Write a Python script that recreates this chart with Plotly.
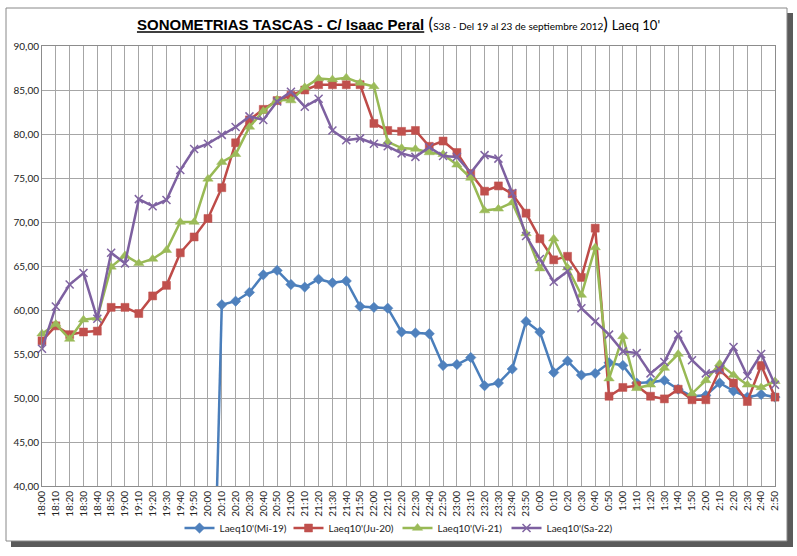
import plotly.graph_objects as go

categories = ["18:00","18:10","18:20","18:30","18:40","18:50","19:00","19:10","19:20","19:30","19:40","19:50",
              "20:00","20:10","20:20","20:30","20:40","20:50","21:00","21:10","21:20","21:30","21:40","21:50",
              "22:00","22:10","22:20","22:30","22:40","22:50","23:00","23:10","23:20","23:30","23:40","23:50",
              "0:00","0:10","0:20","0:30","0:40","0:50","1:00","1:10","1:20","1:30","1:40","1:50",
              "2:00","2:10","2:20","2:30","2:40","2:50"]

# Mi-19: no data before 20:00; 20:00 recorded as 0
mi19 = [None]*12 + [0.0,
        60.6, 61.0, 62.0, 64.0, 64.5, 62.9, 62.6, 63.5, 63.1, 63.3, 60.4,
        60.3, 60.2, 57.5, 57.4, 57.3, 53.7, 53.8, 54.6, 51.4, 51.7, 53.3, 58.7,
        57.5, 52.9, 54.2, 52.6, 52.8, 54.0, 53.7, 51.7, 51.8, 52.0, 51.0, 50.2,
        50.3, 51.7, 50.8, 50.1, 50.4, 50.1]
ju20 = [56.5, 58.2, 57.2, 57.5, 57.6, 60.3, 60.3, 59.6, 61.6, 62.8, 66.5, 68.3,
        70.4, 73.9, 79.0, 81.6, 82.8, 83.8, 84.4, 85.0, 85.6, 85.6, 85.6, 85.6,
        81.2, 80.4, 80.3, 80.4, 78.6, 79.2, 77.9, 75.5, 73.5, 74.1, 73.2, 71.0,
        68.1, 65.7, 66.1, 63.7, 69.3, 50.2, 51.2, 51.4, 50.2, 49.9, 51.0, 49.8,
        49.8, 53.2, 51.7, 49.6, 53.7, 50.1]
vi21 = [57.3, 58.4, 56.7, 58.9, 59.1, 64.9, 66.2, 65.3, 65.8, 66.8, 70.0, 70.0,
        74.9, 76.8, 77.7, 80.8, 82.6, 83.9, 83.8, 85.3, 86.3, 86.2, 86.4, 85.8,
        85.4, 79.1, 78.4, 78.3, 77.9, 77.7, 76.5, 75.0, 71.3, 71.5, 72.2, 68.7,
        64.7, 68.1, 64.8, 61.7, 67.1, 52.2, 57.0, 51.1, 51.5, 53.4, 55.0, 50.5,
        52.0, 53.9, 52.6, 51.5, 51.2, 51.9]
sa22 = [55.6, 60.4, 62.9, 64.2, 59.0, 66.5, 65.3, 72.6, 71.8, 72.5, 75.9, 78.3,
        78.9, 79.9, 80.8, 82.0, 81.6, 83.7, 84.8, 83.1, 84.0, 80.4, 79.3, 79.5,
        78.9, 78.6, 77.8, 77.4, 78.5, 77.5, 77.4, 75.6, 77.6, 77.2, 73.3, 68.4,
        65.8, 63.2, 64.4, 60.2, 58.7, 57.2, 55.3, 55.1, 52.8, 54.1, 57.2, 54.3,
        52.8, 53.2, 55.8, 52.5, 55.0, 51.5]

series_names = ["Laeq10'(Mi-19)", "Laeq10'(Ju-20)", "Laeq10'(Vi-21)", "Laeq10'(Sa-22)"]

W, H = 797, 556
L, R, T, B = 42, 22, 46, 70
pw, ph = W - L - R, H - T - B

def px(x):
    return (x - L) / pw

def py(y):
    return (H - B - y) / ph

fig = go.Figure()

# connector segment for Mi-19 (from the 0 value at 20:00 up to 20:10), line only, clipped
fig.add_trace(go.Scatter(x=categories[12:14], y=mi19[12:14], mode="lines",
                         line=dict(color="#4A7EBB", width=2.5), showlegend=False, hoverinfo="skip"))

styles = [
    dict(color="#4A7EBB", symbol="diamond", size=8, mcolor="#4F81BD"),
    dict(color="#BE4B48", symbol="square", size=8, mcolor="#C0504D"),
    dict(color="#98B954", symbol="triangle-up", size=9, mcolor="#9BBB59"),
    dict(color="#7D60A0", symbol="x-thin", size=8, mcolor="#8064A2"),
]
datas = [[None]*13 + mi19[13:], ju20, vi21, sa22]
for name, d, s in zip(series_names, datas, styles):
    marker = dict(symbol=s["symbol"], size=s["size"], color=s["mcolor"])
    if s["symbol"] == "x-thin":
        marker["line"] = dict(color=s["mcolor"], width=1.5)
    else:
        marker["line"] = dict(color=s["mcolor"], width=0.5)
    fig.add_trace(go.Scatter(x=categories, y=d, name=name, mode="lines+markers",
                             line=dict(color=s["color"], width=2.5), marker=marker,
                             cliponaxis=False, connectgaps=False))

# outer chart frame with shadow
fig.add_shape(type="rect", xref="paper", yref="paper",
              x0=px(11), x1=px(793), y0=py(547), y1=py(13),
              fillcolor="#5a5a5a", line=dict(width=0), layer="below")
fig.add_shape(type="rect", xref="paper", yref="paper",
              x0=px(6), x1=px(787), y0=py(541), y1=py(8),
              fillcolor="white", line=dict(color="#888888", width=1), layer="below")

title = ("<span style='font-family:Liberation Sans'><b><u>SONOMETRIAS TASCAS - C/ Isaac Peral</u></b></span>"
         "<span style='font-size:17px'> (</span>"
         "<span style='font-size:10px'>S38 - Del 19 al 23 de septiembre 2012</span>"
         "<span style='font-size:17px'>)</span> <span style='font-size:13px'>Laeq 10'</span>")

fig.update_layout(
    width=W, height=H,
    margin=dict(l=L, r=R, t=T, b=B, autoexpand=False),
    paper_bgcolor="white", plot_bgcolor="white",
    separators=",.",
    font=dict(family="Lato, Liberation Sans, sans-serif", size=10, color="#222222"),
    title=dict(text=title, x=0.5, xref="container", y=1 - 25 / H, yref="container",
               yanchor="middle", xanchor="center",
               font=dict(family="Lato, Liberation Sans, sans-serif", size=15, color="#000000")),
    showlegend=True,
    legend=dict(orientation="h", x=0.485, xref="paper", xanchor="center", y=py(528), yanchor="middle",
                font=dict(size=10, color="#222222"), bgcolor="rgba(0,0,0,0)",
                entrywidth=64, entrywidthmode="pixels", itemwidth=30),
    hovermode=False,
)
fig.update_xaxes(type="category", categoryorder="array", categoryarray=categories,
                 range=[0, len(categories) - 1], tickangle=-90, showgrid=True,
                 gridcolor="#A6A6A6", gridwidth=1, showline=True, linecolor="#8C8C8C",
                 mirror=True, ticks="", automargin=False, tickfont=dict(size=10),
                 fixedrange=True)
fig.update_yaxes(range=[40, 90], dtick=5, tick0=40, tickformat=".2f", showgrid=True,
                 gridcolor="#A6A6A6", gridwidth=1, showline=True, linecolor="#8C8C8C",
                 mirror=True, ticks="", automargin=False, tickfont=dict(size=10),
                 zeroline=False, fixedrange=True)

fig.write_html("out.html", config={"displayModeBar": False},
               post_script="document.body.style.margin='0';")
